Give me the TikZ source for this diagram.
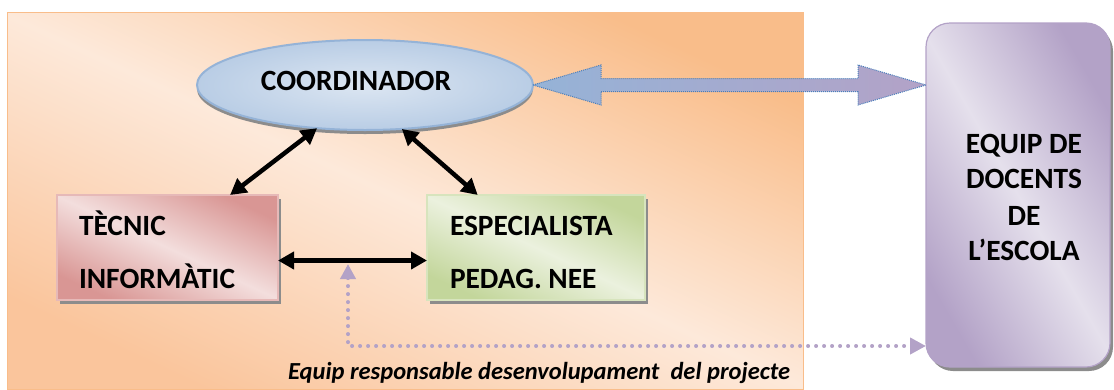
\documentclass[tikz,border=0pt]{standalone}
\usepackage{fontspec}
\setmainfont{Carlito}
\usetikzlibrary{arrows.meta,shapes.geometric,shadows,calc}
\definecolor{orangeD}{HTML}{F9BD8A}
\definecolor{orangeB}{HTML}{FAC59C}
\definecolor{orangeL}{HTML}{FDE9DA}
\definecolor{pinkD}{HTML}{D99694}
\definecolor{pinkL}{HTML}{F3DEDD}
\definecolor{pinkline}{HTML}{E6B9B8}
\definecolor{greenD}{HTML}{C3D69B}
\definecolor{greenL}{HTML}{EBF1DE}
\definecolor{greenline}{HTML}{D7E4BD}
\definecolor{purpD}{HTML}{B3A2C7}
\definecolor{purpL}{HTML}{E5E0EC}
\definecolor{blueD}{HTML}{95B3D7}
\definecolor{blueM}{HTML}{B9CDE5}
\definecolor{blueL}{HTML}{DCE6F2}
\definecolor{dotblue}{HTML}{4A7EBB}
\definecolor{shadowgray}{HTML}{8C8C8C}
\definecolor{lav}{HTML}{B3A2C7}
\begin{document}
\begin{tikzpicture}[x=1pt,y=-1pt,
  bigtxt/.style={font=\bfseries\fontsize{29.4}{34}\selectfont, inner sep=0pt, outer sep=0pt},
  boxbase/.style={rectangle, inner sep=0pt, outer sep=0pt, line width=1.2pt,
    drop shadow={shadow xshift=3pt, shadow yshift=-4pt, fill=shadowgray, opacity=1}},
  tecbox/.style={boxbase, minimum width=221pt, minimum height=105pt, draw=pinkline,
    top color=pinkD, bottom color=pinkD, middle color=pinkL, shading angle=-25},
  espbox/.style={boxbase, minimum width=218pt, minimum height=105pt, draw=greenline,
    top color=greenD, bottom color=greenD, middle color=greenL, shading angle=-25},
  equipbox/.style={boxbase, rounded corners=24pt, minimum width=184pt, minimum height=344pt, draw=purpD,
    top color=purpD, bottom color=purpD, middle color=purpL, shading angle=-60},
  teambox/.style={rectangle, inner sep=0pt, outer sep=0pt, minimum width=796pt, minimum height=377pt,
    draw=orangeD, line width=1pt, top color=orangeD, bottom color=orangeB, middle color=orangeL, shading angle=-25},
  coordell/.style={ellipse, inner sep=0pt, outer sep=0pt, minimum width=336pt, minimum height=90pt,
    draw=blueD, line width=2pt, inner color=blueL, outer color=blueM,
    drop shadow={shadow xshift=0pt, shadow yshift=-4pt, fill=shadowgray, opacity=1}},
  blk/.style={line width=4.5pt, {Triangle[length=16pt,width=17pt]}-{Triangle[length=16pt,width=17pt]}},
  lavdots/.style={draw=lav, line width=4pt, line cap=round, dash pattern=on 0pt off 8pt,
    {Triangle[length=15pt,width=15pt,line cap=butt]}-{Triangle[length=16pt,width=16pt]}},
  blockarrow/.style={left color=blueD, right color=purpD, draw=dotblue, line width=1pt, densely dotted}
]
\useasboundingbox (0,0) rectangle (1114,389);

\node[teambox] (team) at (405,200.5) {};
\node[coordell] (coord) at (365,85) {};
\node[bigtxt, anchor=base] (ct) at (356,90) {COORDINADOR};

\node[tecbox] (tec) at (167.5,247.5) {};
\node[espbox] (esp) at (536,247.5) {};
\node[equipbox] (equip) at (1018,195) {};

\node[bigtxt, anchor=base west] (t1) at (79,235) {TÈCNIC};
\node[bigtxt, anchor=base west] (t2) at (79,288) {INFORMÀTIC};
\node[bigtxt, anchor=base west] (e1) at (450,235) {ESPECIALISTA};
\node[bigtxt, anchor=base west] (e2) at (450,288) {PEDAG. NEE};

\node[bigtxt, anchor=base] (q1) at (1024,153) {EQUIP DE};
\node[bigtxt, anchor=base] (q2) at (1024,188) {DOCENTS};
\node[bigtxt, anchor=base] (q3) at (1024,225) {DE};
\node[bigtxt, anchor=base] (q4) at (1024,260) {L’ESCOLA};

\node[font=\bfseries\itshape\fontsize{24.5}{28}\selectfont, anchor=base west, inner sep=0pt] (lbl)
  at (288,379) {Equip responsable desenvolupament\ \ del projecte};

% black connectors
\draw[blk] (coord.222) -- (tec.40.7);
\draw[blk] (coord.-50) -- (esp.138);
\draw[blk] ([yshift=-13pt]tec.east) -- ([yshift=-13pt]esp.west);

% block double arrow
\path (coord.east) coordinate (bl) (equip.west |- coord.east) coordinate (br);
\path[blockarrow] (bl) -- ++(68,-20) -- ++(0,13.5) -- ($(br)+(-68,-6.5)$) -- ++(0,-13.5) -- (br)
  -- ++(-68,20) -- ++(0,-13.5) -- ($(bl)+(68,6.5)$) -- ++(0,13.5) -- cycle;

% dotted lavender connector
\coordinate (dtip) at (348,264);
\draw[lavdots] (dtip) |- ([yshift=-151pt]equip.west);
\end{tikzpicture}
\end{document}
